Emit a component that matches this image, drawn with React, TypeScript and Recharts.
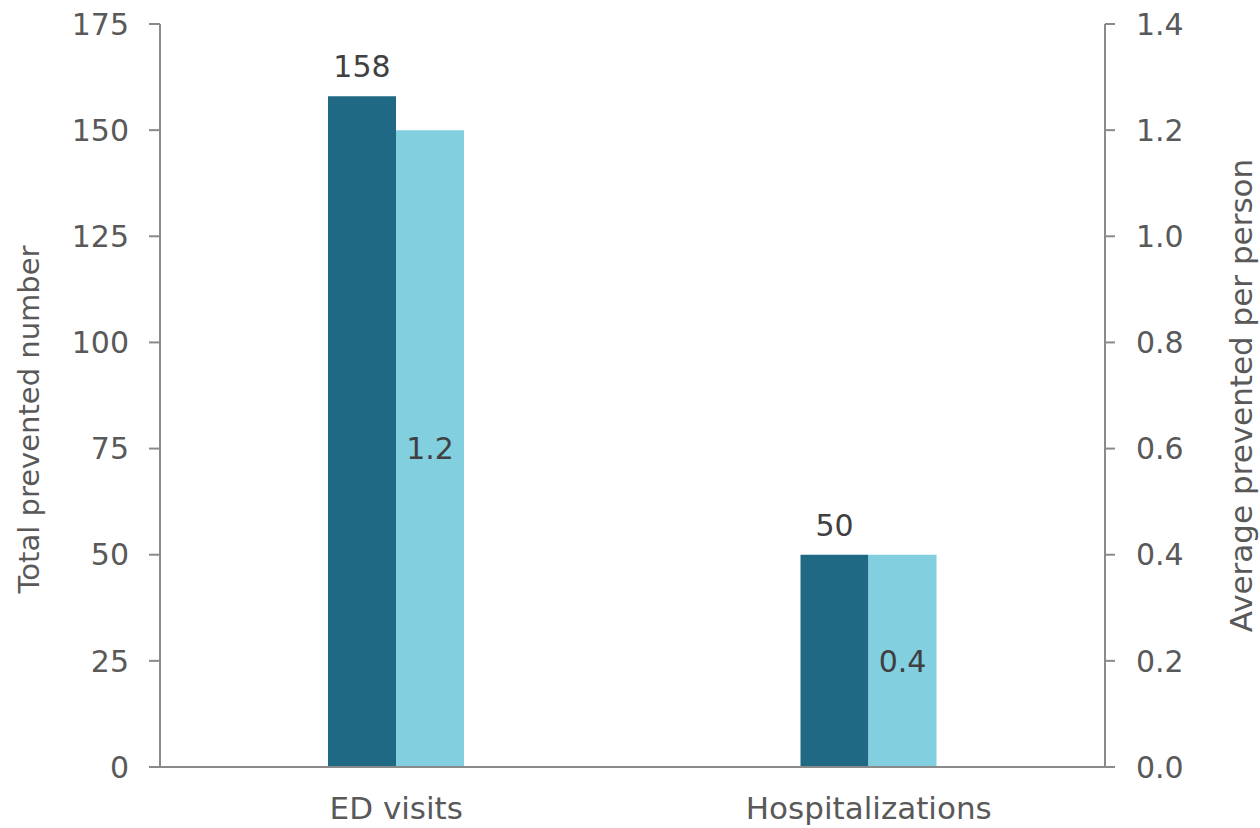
import { BarChart, Bar, XAxis, YAxis, LabelList } from 'recharts'

const categories = ['ED visits', 'Hospitalizations']
const totalPrevented = [158, 50]
const avgPerPerson = [1.2, 0.4]
const leftTicks = [0, 25, 50, 75, 100, 125, 150, 175]
const rightTicks = [0, 0.2, 0.4, 0.6, 0.8, 1.0, 1.2, 1.4]

const data = categories.map((name, i) => ({
  name,
  total: totalPrevented[i],
  avg: avgPerPerson[i],
}))

const FONT = '"DejaVu Sans", Verdana, sans-serif'
const AXIS = '#8a8a8a'
const TICK = { fill: '#595959', fontSize: 30, fontFamily: FONT }

export default function App() {
  return (
    <div style={{ position: 'absolute', left: 0, top: 0, background: '#fff' }}>
      <BarChart
        width={1260}
        height={828}
        data={data}
        margin={{ top: 24, right: 0, bottom: 0, left: 0 }}
        barGap={0}
        barSize={68}
      >
        <XAxis
          dataKey="name"
          height={61}
          tick={{ ...TICK, fontSize: 31 }}
          tickLine={false}
          tickSize={10}
          tickMargin={20}
          axisLine={{ stroke: AXIS, strokeWidth: 2 }}
        />
        <YAxis
          yAxisId="left"
          width={160}
          domain={[0, 175]}
          ticks={leftTicks}
          tick={TICK}
          tickSize={11}
          tickMargin={20}
          tickLine={{ stroke: AXIS, strokeWidth: 2 }}
          axisLine={{ stroke: AXIS, strokeWidth: 2 }}
          label={{
            value: 'Total prevented number',
            angle: -90,
            position: 'center',
            dx: -51,
            dy: 24,
            fill: '#595959',
            fontSize: 29,
            fontFamily: FONT,
          }}
        />
        <YAxis
          yAxisId="right"
          orientation="right"
          width={155}
          domain={[0, 1.4]}
          ticks={rightTicks}
          tickFormatter={(v: number) => v.toFixed(1)}
          tick={TICK}
          tickSize={10}
          tickMargin={21}
          tickLine={{ stroke: AXIS, strokeWidth: 2 }}
          axisLine={{ stroke: AXIS, strokeWidth: 2 }}
          label={{
            value: 'Average prevented per person',
            angle: -90,
            position: 'center',
            dx: 58,
            fill: '#595959',
            fontSize: 31,
            fontFamily: FONT,
          }}
        />
        <Bar yAxisId="left" dataKey="total" fill="#206984" isAnimationActive={false}>
          <LabelList
            dataKey="total"
            position="top"
            offset={19}
            fill="#404040"
            fontSize={30}
            fontFamily={FONT}
          />
        </Bar>
        <Bar yAxisId="right" dataKey="avg" fill="#81cfdf" isAnimationActive={false}>
          <LabelList
            dataKey="avg"
            position="center"
            fill="#404040"
            fontSize={30}
            fontFamily={FONT}
            formatter={(v: number) => v.toFixed(1)}
          />
        </Bar>
      </BarChart>
    </div>
  )
}
